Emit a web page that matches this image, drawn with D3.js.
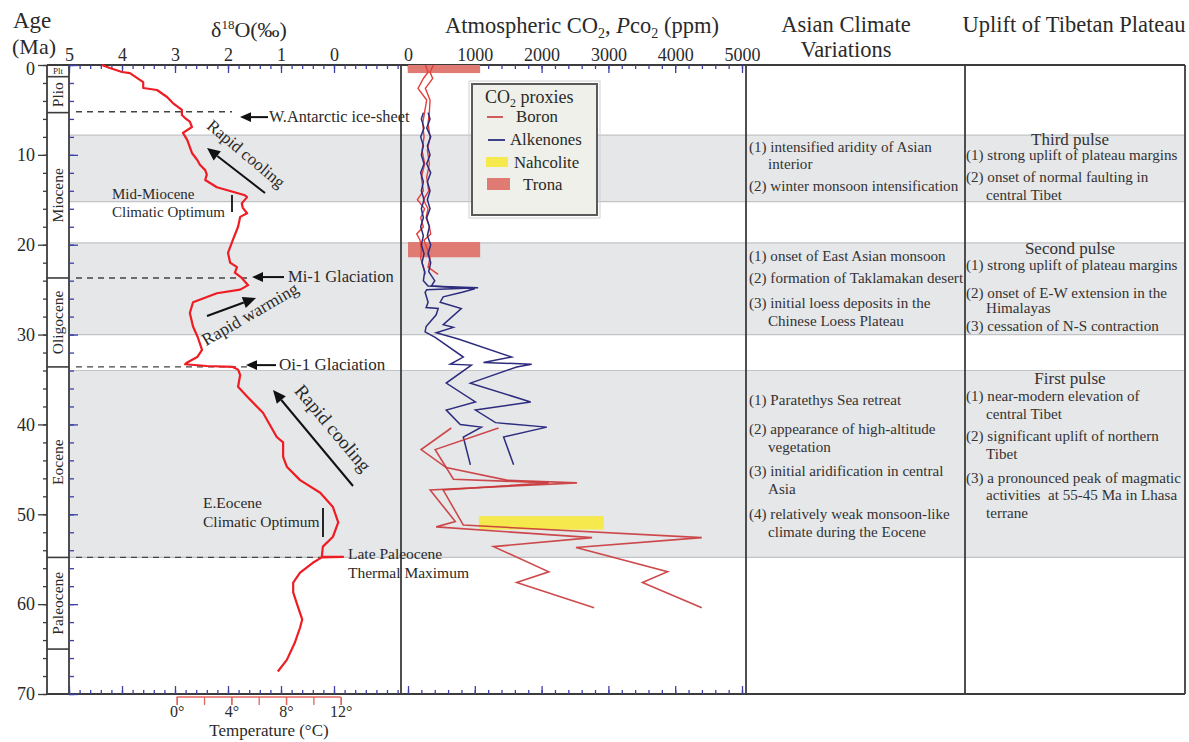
<!DOCTYPE html>
<html>
<head>
<meta charset="utf-8">
<title>Cenozoic climate, CO2 and Tibetan uplift</title>
<script src="https://cdn.jsdelivr.net/npm/d3@7"></script>
<style>
  html, body { margin: 0; padding: 0; background: #fff; }
  svg { display: block; }
  text { font-family: "Liberation Serif", "Times New Roman", serif; }
</style>
</head>
<body>
<svg id="chart" width="1189" height="742"></svg>
<script>
// ---------------- data ----------------
const ageTicks = [0, 10, 20, 30, 40, 50, 60, 70];
const d18oTicks = [5, 4, 3, 2, 1, 0];
const co2Ticks = [0, 1000, 2000, 3000, 4000, 5000];
const tempTicks = [0, 4, 8, 12];

// Epochs (Ma)
const epochNames = ["Plt", "Plio", "Miocene", "Oligocene", "Eocene", "Paleocene"];
const epochBounds = [0, 1.3, 5.3, 23.7, 33.6, 54.8, 65];

// Shaded intervals (Ma)
const bandStart = [7.8, 19.8, 34.0];
const bandEnd = [15.2, 30.0, 54.8];

// Benthic foraminiferal δ18O [age Ma, ‰]
const d18o = [
  [0, 4.38], [0.33, 4.23], [0.78, 4.0], [0.9, 3.85], [1.9, 3.6], [2.56, 3.6], [2.78, 3.34],
  [3.56, 3.15], [4.23, 3.04], [5.0, 2.87], [5.56, 2.87], [5.9, 2.81], [6.3, 2.72], [6.9, 2.68],
  [7.56, 2.85], [8.34, 2.77], [9.79, 2.68], [10.57, 2.58], [11.1, 2.53], [11.7, 2.43], [12.2, 2.4],
  [12.8, 2.43], [13.6, 2.21], [14.1, 1.91], [14.5, 1.68], [14.7, 1.64], [15.4, 1.74], [15.9, 1.72],
  [16.5, 1.64], [16.9, 1.77], [18.0, 1.81], [19.5, 1.91], [20.9, 2.0], [22.0, 1.96], [22.5, 1.83],
  [23.1, 1.87], [23.7, 1.74], [24.5, 1.62], [25.0, 1.77], [25.4, 2.21], [26.4, 2.66], [27.6, 2.72],
  [29.1, 2.66], [30.3, 2.57], [31.7, 2.49], [32.5, 2.58], [33.1, 2.77], [33.3, 2.81], [33.5, 2.4],
  [33.6, 1.91], [33.9, 1.81], [34.5, 1.77], [35.8, 1.81], [36.9, 1.64], [38.7, 1.34], [41.4, 1.08],
  [42.0, 0.96], [43.6, 0.96], [44.7, 0.89], [46.2, 0.64], [47.6, 0.26], [49.2, 0.02], [50.9, -0.08],
  [52.5, 0.02], [53.6, 0.21], [54.7, 0.23], [54.75, -0.17], [54.8, 0.23], [55.4, 0.4], [56.5, 0.64],
  [57.6, 0.77], [58.7, 0.77], [60.3, 0.68], [61.7, 0.6], [62.6, 0.64], [64.3, 0.74], [66.2, 0.89],
  [67.5, 1.06]
];

// Boron-isotope pCO2 estimates, lower and upper bounds [age Ma, ppm]
const boronNeogeneLow = [
  [0, 260], [0.8, 300], [1.5, 230], [2.6, 150], [3.9, 280], [5.2, 250], [6.5, 220], [8, 240],
  [9.5, 210], [11, 250], [12.5, 200], [14, 230], [15, 140], [16, 250], [17, 190], [18, 230],
  [18.8, 130], [19.5, 180], [20.5, 200], [21.5, 190], [22.5, 230], [23.3, 260]
];
const boronNeogeneHigh = [
  [0, 380], [0.8, 330], [1.5, 370], [2.6, 260], [3.9, 330], [5.2, 320], [6.5, 300], [8, 330],
  [9.5, 290], [11, 320], [12.5, 280], [14, 310], [15, 230], [16, 300], [17, 270], [18, 320],
  [18.8, 340], [19.5, 240], [20.5, 290], [21.5, 330], [22.5, 300], [23.3, 450]
];
const boronPaleogeneLow = [
  [40.4, 648], [42.8, 196], [44.8, 572], [46.2, 1476], [46.5, 2530], [47.3, 331], [50.8, 708],
  [51.4, 422], [52.6, 2756], [53.6, 1280], [56.4, 2108], [57.6, 1627], [60.4, 2786]
];
const boronPaleogeneHigh = [
  [40.4, 1355], [42.8, 407], [46.1, 680], [46.5, 2108], [47.3, 527], [51.2, 828], [52.6, 4398],
  [53.7, 2515], [56.4, 3886], [57.6, 3509], [60.4, 4398]
];

// Alkenone pCO2 estimates, lower and upper bounds [age Ma, ppm]
const alkenoneLow = [
  [5.3, 230], [6, 200], [7, 240], [8, 190], [9, 230], [10, 200], [11, 240], [12, 190], [13, 230],
  [14, 200], [15, 240], [16, 200], [17, 230], [18, 190], [19, 230], [20, 200], [21, 240], [22, 210],
  [23, 250], [24, 230], [24.6, 300], [24.8, 1050], [25.0, 280], [25.3, 256], [26.4, 301], [27.0, 271],
  [27.1, 452], [27.8, 422], [29.1, 271], [29.7, 256], [30.3, 407], [32.5, 828], [33.3, 633],
  [33.4, 949], [35.4, 572], [37.5, 1009], [38.4, 572], [40.0, 783], [40.3, 1099], [41.4, 828],
  [44.5, 934]
];
const alkenoneHigh = [
  [5.3, 300], [6, 330], [7, 280], [8, 340], [9, 290], [10, 330], [11, 280], [12, 340], [13, 290],
  [14, 330], [15, 290], [16, 330], [17, 280], [18, 320], [19, 290], [20, 340], [21, 300], [22, 340],
  [23, 310], [24, 400], [24.6, 350], [24.9, 1000], [25.3, 810], [25.8, 527], [26.4, 482],
  [27.1, 798], [28.9, 527], [29.2, 678], [29.8, 422], [30.5, 753], [32.5, 1551], [33.1, 1130],
  [33.3, 1852], [33.6, 1627], [35.4, 934], [37.5, 1837], [38.4, 1009], [39.8, 1310], [40.3, 2078],
  [41.4, 1431], [44.5, 1581]
];

// Mineral proxies: age ranges (Ma) and pCO2 ranges (ppm)
const nahcoliteAge = [50.2, 51.7];
const nahcolitePpm = [1060, 2930];
const tronaAges = [[0, 0.9], [19.7, 21.4]];
const tronaPpm = [0, 1080];

// Climate events marked on the δ18O record
const eventNames = ["W.Antarctic ice-sheet", "Mi-1 Glaciation", "Oi-1 Glaciation"];
const eventAges = [5.8, 23.6, 33.4];

// Column text
const asiaText = [
  ["(1) intensified aridity of Asian", "interior", "(2) winter monsoon intensification"],
  ["(1) onset of East Asian monsoon", "(2) formation of Taklamakan desert",
   "(3) initial loess deposits in the", "Chinese Loess Plateau"],
  ["(1) Paratethys Sea retreat", "(2) appearance of high-altitude", "vegetation",
   "(3) initial aridification in central", "Asia", "(4) relatively weak monsoon-like",
   "climate during the Eocene"]
];
const tibetHeads = ["Third pulse", "Second pulse", "First pulse"];
const tibetText = [
  ["(1) strong uplift of plateau margins", "(2) onset of normal faulting in", "central Tibet"],
  ["(1) strong uplift of plateau margins", "(2) onset of E-W extension in the", "Himalayas",
   "(3) cessation of N-S contraction"],
  ["(1) near-modern elevation of", "central Tibet", "(2) significant uplift of northern", "Tibet",
   "(3) a pronounced peak of magmatic", "activities  at 55-45 Ma in Lhasa", "terrane"]
];

// ---------------- layout ----------------
const svg = d3.select("#chart");
const TOP = 65, BOTTOM = 694;
const X = { outer: 47, epoch: 69, d18: 401, co2: 746, asia: 965, right: 1185 };
const INK = "#2a2a2a", TICK_BLUE = "#3b3fa6", FRAME = "#3c3c3c";
const SERIF = '"Liberation Serif","Times New Roman",serif';

const y = d3.scaleLinear().domain([0, 70]).range([TOP, BOTTOM]);
const xD = d3.scaleLinear().domain([5, 0]).range([69, 334]);
const xC = d3.scaleLinear().domain([0, 5000]).range([408, 742]);
const xT = d3.scaleLinear().domain([0, 12]).range([176.7, 340.7]);

// shaded bands
const gBands = svg.append("g");
bandStart.forEach((a, i) => {
  const b = bandEnd[i];
  gBands.append("rect").attr("x", X.epoch).attr("y", y(a))
    .attr("width", X.right - X.epoch).attr("height", y(b) - y(a)).attr("fill", "#e6e7e9");
  [a, b].forEach(v => gBands.append("line").attr("x1", X.epoch).attr("x2", X.right)
    .attr("y1", y(v)).attr("y2", y(v)).attr("stroke", "#c2c3c6").attr("stroke-width", 1.2));
});

// dashed boundary lines in the δ18O panel
const dashEnds = [232, 247, 247, 330];
[5.2, 23.7, 33.6, 54.8].forEach((a, i) => {
  svg.append("line").attr("x1", 76).attr("x2", dashEnds[i]).attr("y1", y(a)).attr("y2", y(a))
    .attr("stroke", "#444").attr("stroke-width", 1.4).attr("stroke-dasharray", "6,5");
});

// epoch column
const gEp = svg.append("g");
epochBounds.forEach(v => gEp.append("line").attr("x1", X.outer).attr("x2", X.epoch)
  .attr("y1", y(v)).attr("y2", y(v)).attr("stroke", FRAME).attr("stroke-width", 1.6));
epochNames.forEach((n, i) => {
  const cy = (y(epochBounds[i]) + y(epochBounds[i + 1])) / 2;
  const t = gEp.append("text").attr("fill", INK).attr("text-anchor", "middle").text(n);
  if (n === "Plt") {
    t.attr("x", 58).attr("y", cy + 3).attr("font-size", 9);
  } else {
    t.attr("transform", `translate(63,${cy}) rotate(-90)`).attr("font-size", 15.5);
  }
});

// frame lines
const frame = svg.append("g").attr("stroke", FRAME).attr("stroke-width", 1.8);
[X.outer, X.epoch, X.d18, X.co2, X.asia, X.right].forEach(x =>
  frame.append("line").attr("x1", x).attr("x2", x).attr("y1", TOP).attr("y2", BOTTOM));
frame.append("line").attr("x1", X.outer).attr("x2", X.right).attr("y1", TOP).attr("y2", TOP);
frame.append("line").attr("x1", X.outer).attr("x2", X.right).attr("y1", BOTTOM).attr("y2", BOTTOM);

// axis helper
function tidy(g, color) {
  g.attr("font-family", SERIF);
  g.select(".domain").remove();
  g.selectAll(".tick line").attr("stroke", color).attr("stroke-width", 1.3);
  g.selectAll(".tick text").attr("fill", INK).attr("font-size", 18).attr("font-family", SERIF);
  return g;
}

// age axis (outer, with labels) and inner blue ticks
const ageMinor = d3.range(0, 71, 2);
svg.append("g").attr("transform", `translate(${X.outer},0)`)
  .call(d3.axisLeft(y).tickValues(ageMinor).tickSize(4).tickFormat("")).call(g => tidy(g, FRAME));
svg.append("g").attr("transform", `translate(${X.outer},0)`)
  .call(d3.axisLeft(y).tickValues(ageTicks).tickSize(9).tickPadding(3).tickFormat(d3.format("d")))
  .call(g => tidy(g, FRAME))
  .call(g => g.selectAll(".tick text").filter(d => d === 0).attr("dy", "0.5em"));
svg.append("g").attr("transform", `translate(${X.epoch},0)`)
  .call(d3.axisRight(y).tickValues(ageMinor).tickSize(5).tickFormat("")).call(g => tidy(g, TICK_BLUE));
svg.append("g").attr("transform", `translate(${X.epoch},0)`)
  .call(d3.axisRight(y).tickValues(ageTicks).tickSize(9).tickFormat("")).call(g => tidy(g, TICK_BLUE));

// δ18O axes (top labelled, bottom ticks only)
const d18Minor = d3.range(0, 32).map(i => 5 - i * 0.2);
svg.append("g").attr("transform", `translate(0,${TOP})`)
  .call(d3.axisTop(xD).tickValues(d18Minor).tickSize(-4).tickFormat("")).call(g => tidy(g, TICK_BLUE));
svg.append("g").attr("transform", `translate(0,${TOP})`)
  .call(d3.axisTop(xD).tickValues(d18oTicks).tickSize(-8).tickPadding(4).tickFormat(d3.format("d")))
  .call(g => tidy(g, TICK_BLUE));
svg.append("g").attr("transform", `translate(0,${BOTTOM})`)
  .call(d3.axisBottom(xD).tickValues(d18Minor).tickSize(-4).tickFormat("")).call(g => tidy(g, TICK_BLUE));
svg.append("g").attr("transform", `translate(0,${BOTTOM})`)
  .call(d3.axisBottom(xD).tickValues(d18oTicks).tickSize(-8).tickFormat("")).call(g => tidy(g, TICK_BLUE));

// CO2 axes
const co2Minor = d3.range(0, 5001, 200);
svg.append("g").attr("transform", `translate(0,${TOP})`)
  .call(d3.axisTop(xC).tickValues(co2Minor).tickSize(-4).tickFormat("")).call(g => tidy(g, TICK_BLUE));
svg.append("g").attr("transform", `translate(0,${TOP})`)
  .call(d3.axisTop(xC).tickValues(co2Ticks).tickSize(-8).tickPadding(4).tickFormat(d3.format("d")))
  .call(g => tidy(g, TICK_BLUE));
svg.append("g").attr("transform", `translate(0,${BOTTOM})`)
  .call(d3.axisBottom(xC).tickValues(co2Minor).tickSize(-4).tickFormat("")).call(g => tidy(g, TICK_BLUE));
svg.append("g").attr("transform", `translate(0,${BOTTOM})`)
  .call(d3.axisBottom(xC).tickValues(co2Ticks).tickSize(-8).tickFormat("")).call(g => tidy(g, TICK_BLUE));

// temperature axis
const TEMP_RED = "#e0665c";
svg.append("line").attr("x1", xT(0)).attr("x2", xT(12)).attr("y1", BOTTOM + 3).attr("y2", BOTTOM + 3)
  .attr("stroke", TEMP_RED).attr("stroke-width", 1.6);
svg.append("g").attr("transform", `translate(0,${BOTTOM + 3})`)
  .call(d3.axisBottom(xT).tickValues(d3.range(0, 13, 2)).tickSize(8).tickFormat(""))
  .call(g => tidy(g, TEMP_RED));
svg.append("g").attr("transform", `translate(0,${BOTTOM + 3})`)
  .call(d3.axisBottom(xT).tickValues(tempTicks).tickSize(8).tickPadding(1).tickFormat(d => d + "°"))
  .call(g => tidy(g, TEMP_RED)).call(g => g.selectAll(".tick text").attr("font-size", 16));
svg.append("text").attr("x", 269).attr("y", 736).attr("text-anchor", "middle").attr("font-size", 17)
  .attr("fill", INK).text("Temperature (°C)");

// headers
svg.append("text").attr("x", 13).attr("y", 28).attr("font-size", 23).attr("fill", INK).text("Age");
svg.append("text").attr("x", 12).attr("y", 54).attr("font-size", 22).attr("fill", INK).text("(Ma)");
const tD = svg.append("text").attr("x", 249).attr("y", 37).attr("text-anchor", "middle")
  .attr("font-size", 22).attr("fill", INK);
tD.append("tspan").text("δ");
tD.append("tspan").attr("font-size", 13).attr("dy", -8).text("18");
tD.append("tspan").attr("dy", 8).text("O(‰)");
const tC = svg.append("text").attr("x", 582).attr("y", 33).attr("text-anchor", "middle")
  .attr("font-size", 22.5).attr("fill", INK);
tC.append("tspan").text("Atmospheric CO");
tC.append("tspan").attr("font-size", 14).attr("dy", 5).text("2");
tC.append("tspan").attr("dy", -5).text(", ");
tC.append("tspan").attr("font-style", "italic").text("P");
tC.append("tspan").text("co");
tC.append("tspan").attr("font-size", 14).attr("dy", 5).text("2");
tC.append("tspan").attr("dy", -5).text(" (ppm)");
svg.append("text").attr("x", 846).attr("y", 32).attr("text-anchor", "middle").attr("font-size", 22.5)
  .attr("fill", INK).text("Asian Climate");
svg.append("text").attr("x", 846).attr("y", 57).attr("text-anchor", "middle").attr("font-size", 22.5)
  .attr("fill", INK).text("Variations");
svg.append("text").attr("x", 1074).attr("y", 32).attr("text-anchor", "middle").attr("font-size", 22.5)
  .attr("fill", INK).text("Uplift of Tibetan Plateau");

// CO2 proxy rectangles
const gCo2 = svg.append("g");
tronaAges.forEach(([a, b]) => gCo2.append("rect").attr("x", xC(tronaPpm[0])).attr("y", y(a))
  .attr("width", xC(tronaPpm[1]) - xC(tronaPpm[0])).attr("height", y(b) - y(a))
  .attr("fill", "#e07b74"));
gCo2.append("rect").attr("x", xC(nahcolitePpm[0])).attr("y", y(nahcoliteAge[0]))
  .attr("width", xC(nahcolitePpm[1]) - xC(nahcolitePpm[0]))
  .attr("height", y(nahcoliteAge[1]) - y(nahcoliteAge[0])).attr("fill", "#f6e94e");

// CO2 curves
const co2Line = d3.line().x(d => xC(d[1])).y(d => y(d[0]));
const BORON = "#c9363a", ALK = "#2d2c7e";
[boronNeogeneLow, boronNeogeneHigh].forEach(s => gCo2.append("path").attr("d", co2Line(s))
  .attr("fill", "none").attr("stroke", "#e2403c").attr("stroke-width", 1.4));
[alkenoneLow, alkenoneHigh].forEach(s => gCo2.append("path").attr("d", co2Line(s))
  .attr("fill", "none").attr("stroke", ALK).attr("stroke-width", 1.5));
[boronPaleogeneLow, boronPaleogeneHigh].forEach(s => gCo2.append("path").attr("d", co2Line(s))
  .attr("fill", "none").attr("stroke", BORON).attr("stroke-width", 1.6).attr("stroke-opacity", 0.9));

// δ18O curve
const d18Line = d3.line().x(d => xD(d[1])).y(d => y(d[0]));
svg.append("path").attr("d", d18Line(d18o)).attr("fill", "none").attr("stroke", "#ee1d23")
  .attr("stroke-width", 2.2).attr("stroke-linejoin", "round");

// arrows
function arrow(x1, y1, x2, y2, head = 11, width = 2) {
  const a = Math.atan2(y2 - y1, x2 - x1);
  const bx = x2 - head * Math.cos(a), by = y2 - head * Math.sin(a);
  const w = head * 0.45;
  svg.append("line").attr("x1", x1).attr("y1", y1).attr("x2", bx).attr("y2", by)
    .attr("stroke", "#111").attr("stroke-width", width);
  svg.append("polygon").attr("fill", "#111").attr("points", [
    [x2, y2], [bx + w * Math.sin(a), by - w * Math.cos(a)], [bx - w * Math.sin(a), by + w * Math.cos(a)]
  ].map(p => p.join(",")).join(" "));
}

// event labels with arrows
const evX = [[268, 240, 269, 16.3], [284, 252, 288, 16.5], [276, 246, 279, 17]];
eventNames.forEach((n, i) => {
  const ey = y(eventAges[i]);
  const [x1, x2, tx, fs] = evX[i];
  arrow(x1, ey, x2, ey, 11, 2);
  svg.append("text").attr("x", tx).attr("y", ey + 5).attr("font-size", fs).attr("fill", INK).text(n);
});

// trend arrows and rotated labels
arrow(265, 193, 207, 148, 13, 2);
arrow(207, 316, 256, 298, 13, 2);
arrow(353, 486, 273, 390, 13, 2);
function rotLabel(txt, cx, cy, ang, fs) {
  svg.append("text").attr("transform", `translate(${cx},${cy}) rotate(${ang})`)
    .attr("text-anchor", "middle").attr("dominant-baseline", "central")
    .attr("font-size", fs).attr("fill", INK).text(txt);
}
rotLabel("Rapid cooling", 246, 154, 40, 17);
rotLabel("Rapid warming", 250, 314, -30, 17.5);
rotLabel("Rapid cooling", 333, 428, 50, 19);

// climatic optimum / thermal maximum notes
function note(lines, x, ys, fs) {
  lines.forEach((l, i) => svg.append("text").attr("x", x).attr("y", ys[i]).attr("font-size", fs)
    .attr("fill", INK).text(l));
}
note(["Mid-Miocene", "Climatic Optimum"], 112, [199, 217], 15);
svg.append("line").attr("x1", 232).attr("x2", 232).attr("y1", 195).attr("y2", 212)
  .attr("stroke", "#111").attr("stroke-width", 1.8);
note(["E.Eocene", "Climatic Optimum"], 203, [508, 527], 15.5);
svg.append("line").attr("x1", 323).attr("x2", 323).attr("y1", 508).attr("y2", 537)
  .attr("stroke", "#111").attr("stroke-width", 1.8);
note(["Late Paleocene", "Thermal Maximum"], 348, [559, 578], 15.5);

// legend
const lg = svg.append("g");
lg.append("rect").attr("x", 469).attr("y", 81).attr("width", 131).attr("height", 137)
  .attr("fill", "none").attr("stroke", "#d0d0d0").attr("stroke-width", 1);
lg.append("rect").attr("x", 472).attr("y", 84).attr("width", 125).attr("height", 131)
  .attr("fill", "#eef0e9").attr("stroke", "#5a5a5a").attr("stroke-width", 2);
const lt = lg.append("text").attr("x", 485).attr("y", 103).attr("font-size", 18).attr("fill", INK);
lt.append("tspan").text("CO");
lt.append("tspan").attr("font-size", 12).attr("dy", 4).text("2");
lt.append("tspan").attr("dy", -4).text(" proxies");
lg.append("line").attr("x1", 487).attr("x2", 503).attr("y1", 117).attr("y2", 117)
  .attr("stroke", BORON).attr("stroke-width", 1.6);
lg.append("text").attr("x", 516).attr("y", 122).attr("font-size", 16.8).attr("fill", INK).text("Boron");
lg.append("line").attr("x1", 488).attr("x2", 505).attr("y1", 140).attr("y2", 140)
  .attr("stroke", ALK).attr("stroke-width", 1.8);
lg.append("text").attr("x", 510).attr("y", 145).attr("font-size", 16.8).attr("fill", INK).text("Alkenones");
lg.append("rect").attr("x", 486).attr("y", 157).attr("width", 22).attr("height", 10).attr("fill", "#f6e94e");
lg.append("text").attr("x", 514).attr("y", 168).attr("font-size", 16.8).attr("fill", INK).text("Nahcolite");
lg.append("rect").attr("x", 487).attr("y", 178).attr("width", 23).attr("height", 12).attr("fill", "#e07b74");
lg.append("text").attr("x", 523).attr("y", 190).attr("font-size", 16.8).attr("fill", INK).text("Trona");

// column text
const COL_FS = 15.1, COL_INK = "#333";
const asiaY = [[152, 169, 191], [261, 283, 308, 326], [405, 434, 452, 476, 494, 519, 537]];
asiaText.forEach((blk, b) => blk.forEach((l, i) => {
  const cont = !/^\(\d\)/.test(l);
  svg.append("text").attr("x", cont ? 768 : 749).attr("y", asiaY[b][i]).attr("font-size", COL_FS)
    .attr("fill", COL_INK).text(l);
}));
const tibetHeadY = [145, 254, 384];
const tibetY = [[160, 182, 200], [270, 298, 313, 331], [401, 419, 441, 459, 483, 500, 518]];
tibetHeads.forEach((h, b) => svg.append("text").attr("x", 1070).attr("y", tibetHeadY[b])
  .attr("text-anchor", "middle").attr("font-size", 17).attr("fill", COL_INK).text(h));
tibetText.forEach((blk, b) => blk.forEach((l, i) => {
  const cont = !/^\(\d\)/.test(l);
  svg.append("text").attr("x", cont ? 986 : 966).attr("y", tibetY[b][i]).attr("font-size", COL_FS)
    .attr("fill", COL_INK).style("white-space", "pre").text(l);
}));
</script>
</body>
</html>
